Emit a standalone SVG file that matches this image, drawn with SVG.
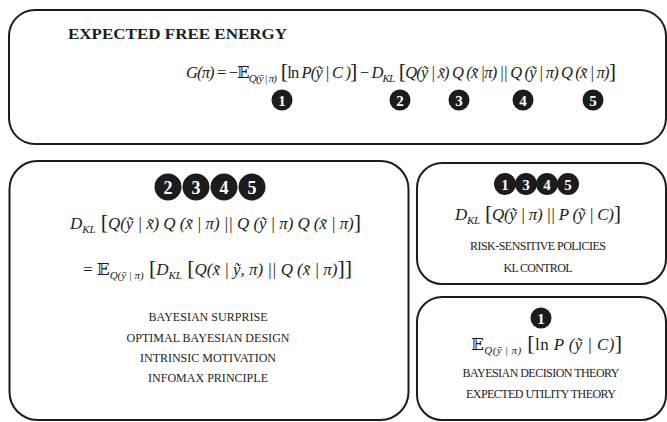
<svg xmlns="http://www.w3.org/2000/svg" width="667" height="422" viewBox="0 0 667 422">
<style>
.box{fill:#fff;stroke:#1c1c1c;stroke-width:2}
.t{font-family:"Liberation Serif","DejaVu Serif",serif;fill:#1c1c1c}
.h{font-weight:bold;font-size:15px}
.m{font-size:16.5px;font-style:italic}
.m2{font-size:17px;font-style:italic}
.up{font-style:normal}
.br{font-style:normal;font-size:22px}
.sub{font-size:11px}
.bb{font-style:normal;font-family:"DejaVu Serif","DejaVu Sans",serif}
.lbl{font-size:12px;text-anchor:middle}
.c{fill:#1c1c1c}
.n{fill:#fff;font-family:"Liberation Serif",serif;font-weight:bold;text-anchor:middle}
</style>
<rect width="667" height="422" fill="#fff"/>
<g id="expected-free-energy">
<rect class="box" x="9" y="10" width="657" height="134" rx="26"/>
<text class="t h" x="68" y="39" textLength="219" lengthAdjust="spacingAndGlyphs">EXPECTED FREE ENERGY</text>
<text class="t m" x="186" y="78" textLength="430" lengthAdjust="spacing">G(π) <tspan class="up">= −</tspan><tspan class="bb">𝔼</tspan><tspan class="sub" dy="4">Q(ỹ | π)</tspan><tspan class="br" dy="-4"> [</tspan><tspan class="up">ln</tspan> P(ỹ | C )<tspan class="br">]</tspan><tspan class="up"> − </tspan>D<tspan class="sub" dy="4">KL</tspan><tspan class="br" dy="-4"> [</tspan>Q(ỹ | x̃) Q (x̃ |π) || Q (ỹ | π) Q (x̃ | π)<tspan class="br">]</tspan></text>
<circle class="c" cx="282" cy="100" r="10.5"/><text class="n" x="282" y="105.5" font-size="15">1</text>
<circle class="c" cx="400" cy="100" r="10.5"/><text class="n" x="400" y="105.5" font-size="15">2</text>
<circle class="c" cx="459" cy="100" r="10.5"/><text class="n" x="459" y="105.5" font-size="15">3</text>
<circle class="c" cx="523" cy="100" r="10.5"/><text class="n" x="523" y="105.5" font-size="15">4</text>
<circle class="c" cx="593" cy="100" r="10.5"/><text class="n" x="593" y="105.5" font-size="15">5</text>
</g>
<g id="epistemic">
<rect class="box" x="9.5" y="161" width="399" height="259" rx="28"/>
<circle class="c" cx="168" cy="187" r="13.5"/><text class="n" x="168" y="193.5" font-size="18">2</text>
<circle class="c" cx="196" cy="187" r="13.5"/><text class="n" x="196" y="193.5" font-size="18">3</text>
<circle class="c" cx="224" cy="187" r="13.5"/><text class="n" x="224" y="193.5" font-size="18">4</text>
<circle class="c" cx="252" cy="187" r="13.5"/><text class="n" x="252" y="193.5" font-size="18">5</text>
<text class="t m2" x="70" y="229" textLength="291" lengthAdjust="spacing">D<tspan class="sub" dy="4">KL</tspan><tspan class="br" dy="-4"> [</tspan>Q(ỹ | x̃) Q (x̃ | π) || Q (ỹ | π) Q (x̃ | π)<tspan class="br">]</tspan></text>
<text class="t m2" x="83" y="275" textLength="269" lengthAdjust="spacing"><tspan class="up">= </tspan><tspan class="bb">𝔼</tspan><tspan class="sub" dy="4">Q(ỹ | π)</tspan><tspan class="br" dy="-4"> [</tspan>D<tspan class="sub" dy="4">KL</tspan><tspan class="br" dy="-4"> [</tspan>Q(x̃ | ỹ, π) || Q (x̃ | π)<tspan class="br">]]</tspan></text>
<text class="t lbl" x="208" y="321" textLength="119" lengthAdjust="spacing">BAYESIAN SURPRISE</text>
<text class="t lbl" x="208" y="342" textLength="163" lengthAdjust="spacing">OPTIMAL BAYESIAN DESIGN</text>
<text class="t lbl" x="208" y="362" textLength="136" lengthAdjust="spacing">INTRINSIC MOTIVATION</text>
<text class="t lbl" x="208" y="382" textLength="120" lengthAdjust="spacing">INFOMAX PRINCIPLE</text>
</g>
<g id="risk">
<rect class="box" x="417" y="163" width="249" height="121" rx="25"/>
<circle class="c" cx="505" cy="184" r="11"/><text class="n" x="505" y="189.5" font-size="15">1</text>
<circle class="c" cx="526" cy="184" r="11"/><text class="n" x="526" y="189.5" font-size="15">3</text>
<circle class="c" cx="547" cy="184" r="11"/><text class="n" x="547" y="189.5" font-size="15">4</text>
<circle class="c" cx="568" cy="184" r="11"/><text class="n" x="568" y="189.5" font-size="15">5</text>
<text class="t m2" x="455" y="220" textLength="166" lengthAdjust="spacing">D<tspan class="sub" dy="4">KL</tspan><tspan class="br" dy="-4"> [</tspan>Q(ỹ | π) || P (ỹ | C)<tspan class="br">]</tspan></text>
<text class="t lbl" x="538" y="250" textLength="136" lengthAdjust="spacing">RISK-SENSITIVE POLICIES</text>
<text class="t lbl" x="538" y="272" textLength="69" lengthAdjust="spacing">KL CONTROL</text>
</g>
<g id="utility">
<rect class="box" x="417" y="297" width="249" height="123" rx="25"/>
<circle class="c" cx="541" cy="318" r="10.5"/><text class="n" x="541" y="323.5" font-size="15">1</text>
<text class="t m2" x="471" y="350" textLength="151" lengthAdjust="spacing"><tspan class="bb">𝔼</tspan><tspan class="sub" dy="4">Q(ỹ | π)</tspan><tspan class="br" dy="-4"> [</tspan><tspan class="up">ln</tspan> P (ỹ | C)<tspan class="br">]</tspan></text>
<text class="t lbl" x="541" y="377" textLength="157" lengthAdjust="spacing">BAYESIAN DECISION THEORY</text>
<text class="t lbl" x="541" y="398" textLength="150" lengthAdjust="spacing">EXPECTED UTILITY THEORY</text>
</g>
<g id="connectors"/>
</svg>
